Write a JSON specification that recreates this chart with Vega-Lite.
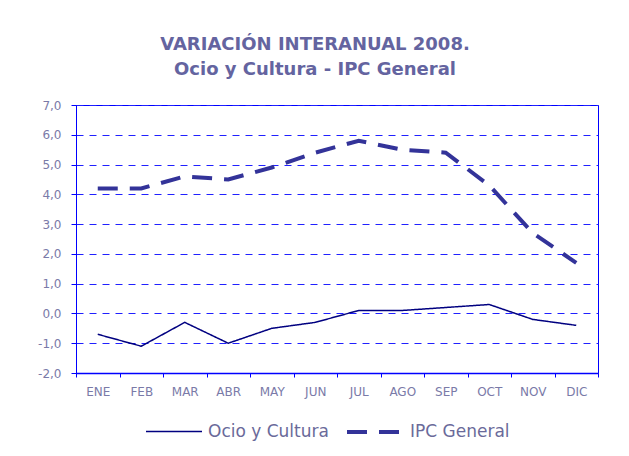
{
  "$schema": "https://vega.github.io/schema/vega-lite/v6.json",
  "autosize": {"type": "none"},
  "padding": {"left": 76, "top": 105, "right": 31, "bottom": 83},
  "width": 522,
  "height": 268,
  "background": "white",
  "title": {
    "text": ["VARIACIÓN INTERANUAL 2008.", "Ocio y Cultura - IPC General"],
    "font": "DejaVu Sans",
    "fontSize": 18,
    "fontWeight": "bold",
    "color": "#6464a0",
    "lineHeight": 25,
    "offset": 20,
    "dx": -22,
    "anchor": "middle"
  },
  "config": {
    "view": {"stroke": "#0000ff", "strokeWidth": 1},
    "axis": {"domainColor": "#0000ff", "tickColor": "#0000ff", "labelFont": "DejaVu Sans", "labelColor": "#7a7aa8", "title": null}
  },
  "data": {
    "values": [
      {"month": "ENE", "series": "Ocio y Cultura", "value": -0.7},
      {"month": "FEB", "series": "Ocio y Cultura", "value": -1.1},
      {"month": "MAR", "series": "Ocio y Cultura", "value": -0.3},
      {"month": "ABR", "series": "Ocio y Cultura", "value": -1.0},
      {"month": "MAY", "series": "Ocio y Cultura", "value": -0.5},
      {"month": "JUN", "series": "Ocio y Cultura", "value": -0.3},
      {"month": "JUL", "series": "Ocio y Cultura", "value": 0.1},
      {"month": "AGO", "series": "Ocio y Cultura", "value": 0.1},
      {"month": "SEP", "series": "Ocio y Cultura", "value": 0.2},
      {"month": "OCT", "series": "Ocio y Cultura", "value": 0.3},
      {"month": "NOV", "series": "Ocio y Cultura", "value": -0.2},
      {"month": "DIC", "series": "Ocio y Cultura", "value": -0.4},
      {"month": "ENE", "series": "IPC General", "value": 4.2},
      {"month": "FEB", "series": "IPC General", "value": 4.2},
      {"month": "MAR", "series": "IPC General", "value": 4.6},
      {"month": "ABR", "series": "IPC General", "value": 4.5},
      {"month": "MAY", "series": "IPC General", "value": 4.9},
      {"month": "JUN", "series": "IPC General", "value": 5.4},
      {"month": "JUL", "series": "IPC General", "value": 5.8},
      {"month": "AGO", "series": "IPC General", "value": 5.5},
      {"month": "SEP", "series": "IPC General", "value": 5.4},
      {"month": "OCT", "series": "IPC General", "value": 4.3},
      {"month": "NOV", "series": "IPC General", "value": 2.7},
      {"month": "DIC", "series": "IPC General", "value": 1.7}
    ]
  },
  "mark": {"type": "line", "strokeCap": "butt"},
  "encoding": {
    "x": {
      "field": "month",
      "type": "ordinal",
      "sort": ["ENE", "FEB", "MAR", "ABR", "MAY", "JUN", "JUL", "AGO", "SEP", "OCT", "NOV", "DIC"],
      "scale": {"type": "band", "paddingInner": 0, "paddingOuter": 0},
      "bandPosition": 0.5,
      "axis": {
        "tickBand": "extent",
        "tickSize": 4,
        "labelPadding": 9,
        "labelFontSize": 12,
        "labelAngle": 0,
        "domainWidth": 1.5
      }
    },
    "y": {
      "field": "value",
      "type": "quantitative",
      "scale": {"domain": [-2, 7], "nice": false, "zero": false},
      "axis": {
        "values": [-2, -1, 0, 1, 2, 3, 4, 5, 6, 7],
        "labelExpr": "replace(replace(format(datum.value, '.1f'), '.', ','), '−', '-')",
        "labelFontSize": 12,
        "tickSize": 5,
        "labelPadding": 10,
        "grid": true,
        "gridColor": "#2020ff",
        "gridDash": [7, 6],
        "gridWidth": 1
      }
    },
    "color": {
      "field": "series",
      "type": "nominal",
      "scale": {"domain": ["Ocio y Cultura", "IPC General"], "range": ["#000080", "#333399"]},
      "legend": {
        "orient": "none",
        "direction": "horizontal",
        "legendX": 69,
        "legendY": 297,
        "title": null,
        "symbolType": "stroke",
        "symbolSize": 3136,
        "labelFont": "DejaVu Sans",
        "labelFontSize": 17,
        "labelColor": "#6a6a9a",
        "labelOffset": 5,
        "columnPadding": 10,
        "labelLimit": 300
      }
    },
    "strokeDash": {
      "field": "series",
      "type": "nominal",
      "scale": {"domain": ["Ocio y Cultura", "IPC General"], "range": [[1, 0], [20, 12]]}
    },
    "strokeWidth": {
      "field": "series",
      "type": "nominal",
      "scale": {"domain": ["Ocio y Cultura", "IPC General"], "range": [1.5, 4]}
    }
  }
}
